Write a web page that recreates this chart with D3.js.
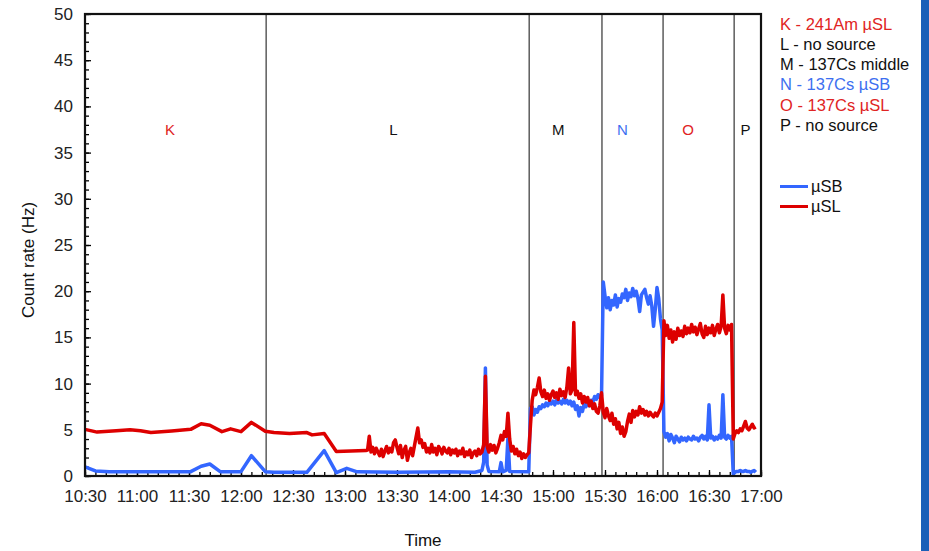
<!DOCTYPE html>
<html>
<head>
<meta charset="utf-8">
<script src="https://cdn.jsdelivr.net/npm/d3@7"></script>
<style>
  body { margin: 0; background: #fff; }
  svg text { font-family: "Liberation Sans", Arial, sans-serif; }
</style>
</head>
<body>
<div id="chart"></div>
<script>
// ---- data (Hz) ----
// quiet part of the run, irregular readings [time, rate]
var redQuiet = [["10:30",5.05],["10:37",4.75],["10:48",4.9],["10:56",5.0],["11:02",4.9],["11:08",4.7],
  ["11:20",4.87],["11:31",5.05],["11:37",5.65],["11:42",5.5],["11:49",4.8],["11:54",5.1],["12:00",4.8],
  ["12:06",5.8],["12:14",4.85],["12:19",4.7],["12:28",4.6],["12:38",4.7],["12:41",4.45],["12:48",4.6],
  ["12:55",2.65],["13:12",2.75]];
var blueQuiet = [["10:30",1.0],["10:36",0.55],["10:44",0.47],["11:31",0.47],["11:37",1.05],["11:42",1.3],
  ["11:48",0.47],["12:00",0.47],["12:06",2.2],["12:14",0.47],["12:19",0.4],["12:38",0.4],["12:48",2.75],
  ["12:55",0.36],["13:01",0.83],["13:07",0.45],["13:30",0.4],["14:00",0.45],["14:15",0.4],["14:19",0.6],
  ["14:20",1.5],["14:21",11.7],["14:22",1.2],["14:23",0.5],["14:29",0.45],["14:30",1.45],["14:31",0.45],
  ["14:33",0.6],["14:34",4.1],["14:35",0.5],["14:46",0.45]];

// one reading per minute from the given start
var redL = [2.8,4.3,2.6,3.1,2.4,3.0,2.6,
  2.2,2.9,2.1,2.7,3.2,2.5,3.0,2.6,3.6,3.9,
  3.1,2.4,3.3,2.0,2.8,3.2,1.7,2.5,3.0,2.2,
  3.2,4.2,5.2,3.6,3.9,3.1,3.5,2.6,3.0,2.5,
  3.4,2.6,3.0,2.3,3.2,2.9,2.4,3.1,2.7,2.5,
  3.0,2.3,2.8,2.5,2.9,2.2,2.7,2.4,3.0,2.1,
  2.6,2.3,2.8,2.0,2.5,2.7,2.2,2.9,2.4,2.6,
  3.4,10.8,3.2,2.6,3.4,2.8,3.3,2.5,3.0,3.6,
  4.4,3.9,4.8,4.3,6.8,4.0,2.7,3.2,2.4,2.9,
  2.2,2.6,1.9,2.4,2.0,2.3,2.5];                       // from 13:13
var redM = [5.5,8.2,9.3,8.8,9.6,10.6,9.1,8.6,9.3,8.4,8.9,8.2,8.8,9.2,8.5,9.0,8.3,9.4,8.7,9.1,
  8.5,9.6,11.7,8.9,9.3,16.6,8.8,9.2,8.4,8.9,7.9,8.6,8.0,8.5,7.6,8.1,7.3,7.8,7.0,6.8,7.6,9.0]; // from 14:47
var redN = [6.9,6.3,7.3,6.5,6.0,6.8,5.6,6.2,5.1,5.8,4.6,5.3,4.3,4.8,5.9,6.7,5.8,7.1,6.4,7.0,
  6.6,7.5,6.8,7.2,6.6,7.0,6.5,6.9,6.6,6.4,6.8,6.5,6.9,7.3,8.0];                         // from 15:29
var redO = [16.8,15.2,16.3,14.9,15.8,14.5,15.6,14.8,16.0,15.2,15.7,15.1,16.2,15.4,16.0,15.5,16.4,
  15.6,16.1,15.3,15.9,16.5,15.4,15.0,16.2,15.3,16.0,15.5,16.3,15.2,15.9,16.4,15.5,16.2,19.6,
  16.0,15.4,16.3,15.8,16.4,4.0];                                                          // from 16:04
var redP = [4.6,4.9,4.7,5.1,4.9,5.4,5.9,5.2,5.0,5.3,5.6,5.2,5.3];                       // from 16:45

var blueM = [7.3,7.5,6.6,7.2,6.9,7.5,7.3,7.7,7.5,7.9,7.6,8.0,7.8,8.1,7.7,8.2,7.9,8.1,7.8,8.3,
  7.9,8.2,7.8,8.1,7.6,8.0,7.2,7.6,6.5,7.4,7.0,7.8,7.5,8.0,7.6,8.2,8.0,8.6,8.3,8.8,8.5,8.7];  // from 14:47
var blueN = [21.0,19.5,18.2,19.3,18.0,19.0,18.5,19.6,18.3,19.2,18.8,19.7,19.3,20.2,19.0,19.8,19.4,
  20.3,19.5,20.0,19.2,17.8,19.6,19.9,20.2,19.3,18.6,19.5,18.4,16.2,18.0,20.4,19.2,17.0,15.8]; // from 15:29
var blueO = [4.8,4.2,4.6,3.8,4.5,4.1,3.6,4.3,4.0,3.7,4.2,3.9,4.1,3.8,4.2,4.0,3.9,4.3,4.0,4.1,
  3.8,4.2,4.4,4.0,4.3,3.9,7.7,4.1,4.3,3.9,4.2,4.0,4.4,4.1,8.8,4.2,4.0,4.4,4.1,4.3,0.2];     // from 16:04
var blueP = [0.4,0.5,0.5,0.6,0.5,0.5,0.6,0.5,0.5,0.4,0.5,0.6,0.4];                      // from 16:45

// source changes and region names
var boundaries = ["12:14:30","14:46:15","15:28:15","16:03:30","16:44:30"];
var regionNames = ["K","L","M","N","O","P"];
var regionAt = ["11:19","13:28","15:03","15:40","16:18","16:51"];
var regionColor = ["#e02424","#111","#111","#3d6ff0","#e02424","#111"];
var notes = ["K - 241Am \u00b5SL","L - no source","M - 137Cs middle","N - 137Cs \u00b5SB","O - 137Cs \u00b5SL","P - no source"];
var seriesNames = ["\u00b5SB","\u00b5SL"];

// ---- helpers ----
var parse = function(s) { return d3.timeParse(s.length > 5 ? "%H:%M:%S" : "%H:%M")(s); };
function perMinute(start, values) {
  var t0 = parse(start);
  return values.map(function(v, i) { return [d3.timeMinute.offset(t0, i), v]; });
}
var red = redQuiet.map(function(d) { return [parse(d[0]), d[1]]; })
  .concat(perMinute("13:13", redL), perMinute("14:47", redM), perMinute("15:29", redN),
          perMinute("16:04", redO), perMinute("16:45", redP));
var blue = blueQuiet.map(function(d) { return [parse(d[0]), d[1]]; })
  .concat(perMinute("14:47", blueM), perMinute("15:29", blueN),
          perMinute("16:04", blueO), perMinute("16:45", blueP));

var blueC = "#3366ff", redC = "#dd0000";

// ---- layout ----
var W = 929, H = 551;
var margin = {top: 14, left: 85},
    width = 676,
    height = 462;

var svg = d3.select("#chart").append("svg")
    .attr("width", W).attr("height", H);
svg.append("rect").attr("width", W).attr("height", H).attr("fill", "#fff");
svg.append("rect").attr("x", 921).attr("y", 0).attr("width", 8).attr("height", H).attr("fill", "#1b5fb8");

var g = svg.append("g").attr("transform", "translate(" + margin.left + "," + margin.top + ")");

var x = d3.scaleTime().domain([parse("10:30"), parse("17:00")]).range([0, width]);
var y = d3.scaleLinear().domain([0, 50]).range([height, 0]);

// minor ticks
g.append("g").attr("transform", "translate(0," + height + ")")
  .call(d3.axisBottom(x).ticks(d3.timeMinute.every(6)).tickSize(-4).tickFormat(""))
  .call(function(a) { a.select(".domain").remove(); a.selectAll("line").attr("stroke-width", 1.3); });
g.append("g")
  .call(d3.axisLeft(y).ticks(50).tickSize(-4).tickFormat(""))
  .call(function(a) { a.select(".domain").remove(); a.selectAll("line").attr("stroke-width", 1.3); });

// major ticks + labels
var xAxis = g.append("g").attr("transform", "translate(0," + height + ")")
  .call(d3.axisBottom(x).ticks(d3.timeMinute.every(30)).tickSize(-6).tickPadding(14)
        .tickFormat(d3.timeFormat("%H:%M")));
var yAxis = g.append("g")
  .call(d3.axisLeft(y).tickValues(d3.range(0, 51, 5)).tickSize(-6).tickPadding(12));
[xAxis, yAxis].forEach(function(a) {
  a.select(".domain").remove();
  a.selectAll("line").attr("stroke-width", 1.3);
  a.selectAll("text").attr("font-size", 17).attr("fill", "#222");
});

// source change lines
g.selectAll(".sep").data(boundaries).enter().append("line")
  .attr("x1", function(d) { return x(parse(d)); })
  .attr("x2", function(d) { return x(parse(d)); })
  .attr("y1", 0).attr("y2", height)
  .attr("stroke", "#333").attr("stroke-width", 1.2);

g.selectAll(".region").data(regionNames).enter().append("text")
  .attr("x", function(d, i) { return x(parse(regionAt[i])); })
  .attr("y", y(37.5) + 5)
  .attr("text-anchor", "middle")
  .attr("font-size", 15)
  .attr("fill", function(d, i) { return regionColor[i]; })
  .text(function(d) { return d; });

// series
var line = d3.line().x(function(d) { return x(d[0]); }).y(function(d) { return y(d[1]); });
[[blue, blueC], [red, redC]].forEach(function(s) {
  g.append("path").datum(s[0])
    .attr("d", line)
    .attr("fill", "none")
    .attr("stroke", s[1])
    .attr("stroke-width", 3.5)
    .attr("stroke-linejoin", "round");
});

// frame
g.append("rect").attr("width", width).attr("height", height)
  .attr("fill", "none").attr("stroke", "#111").attr("stroke-width", 2.2);

// axis titles
svg.append("text")
  .attr("transform", "translate(34," + (margin.top + height / 2 + 15) + ") rotate(-90)")
  .attr("text-anchor", "middle").attr("font-size", 17).attr("fill", "#111")
  .text("Count rate (Hz)");
svg.append("text")
  .attr("x", 423).attr("y", 546)
  .attr("text-anchor", "middle").attr("font-size", 17).attr("fill", "#111")
  .text("Time");

// notes on the right
svg.selectAll(".note").data(notes).enter().append("text")
  .attr("x", 780)
  .attr("y", function(d, i) { return 29.5 + i * 20.3; })
  .attr("font-size", 16.5)
  .attr("fill", function(d, i) { return regionColor[i]; })
  .text(function(d) { return d; });

// legend
var leg = svg.selectAll(".leg").data(seriesNames).enter().append("g")
  .attr("transform", function(d, i) { return "translate(780," + (186.5 + i * 20) + ")"; });
leg.append("line").attr("x1", 0).attr("x2", 28)
  .attr("stroke", function(d, i) { return i === 0 ? blueC : redC; })
  .attr("stroke-width", 3);
leg.append("text").attr("x", 31).attr("y", 5.5)
  .attr("font-size", 16.5).attr("fill", "#111")
  .text(function(d) { return d; });
</script>
</body>
</html>
